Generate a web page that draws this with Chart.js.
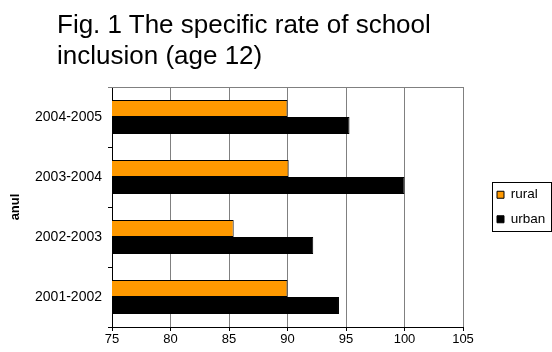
<!DOCTYPE html>
<html>
<head>
<meta charset="utf-8">
<script src="https://cdn.jsdelivr.net/npm/chart.js@4.4.1/dist/chart.umd.min.js"></script>
<style>
  body { margin: 0; background: #fff; }
  #wrap { position: relative; width: 552px; height: 352px; }
  #title {
    position: absolute; left: 57px; top: 9px;
    font: 26px "Liberation Sans", Arial, sans-serif;
    line-height: 31px; color: #000; white-space: nowrap;
  }
  canvas { position: absolute; left: 0; top: 0; }
</style>
</head>
<body>
<div id="wrap">
  <canvas id="chart" width="552" height="352"></canvas>
  <div id="title">Fig. 1 The specific rate of school<br>inclusion (age 12)</div>
</div>
<script>
const years = ['2004-2005', '2003-2004', '2002-2003', '2001-2002'];
const rural = [90.0, 90.1, 85.4, 90.0];
const urban = [95.3, 100.0, 92.2, 94.4];
const xTicks = [75, 80, 85, 90, 95, 100, 105];

Chart.defaults.font.family = '"Liberation Sans", Arial, sans-serif';
Chart.defaults.color = '#000';

// gray frame line along the top of the plot area
const plotFrame = {
  id: 'plotFrame',
  afterDraw(chart) {
    const { ctx, chartArea: a } = chart;
    ctx.save();
    ctx.strokeStyle = '#808080';
    ctx.lineWidth = 1;
    ctx.beginPath();
    ctx.moveTo(a.left - 4, a.top + 0.5);
    ctx.lineTo(a.right + 0.5, a.top + 0.5);
    ctx.stroke();
    ctx.restore();
  }
};

// box around the legend items
const legendFrame = {
  id: 'legendFrame',
  afterDraw(chart) {
    const lg = chart.legend;
    const boxes = lg && lg.legendHitBoxes;
    if (!boxes || !boxes.length) return;
    const first = boxes[0], last = boxes[boxes.length - 1];
    const x0 = Math.round(first.left - 5) + 0.5;
    const x1 = Math.round(lg.right - 1) + 0.5;
    const y0 = Math.round(first.top - 6) + 0.5;
    const y1 = Math.round(last.top + last.height + 5) + 0.5;
    const ctx = chart.ctx;
    ctx.save();
    ctx.strokeStyle = '#000';
    ctx.lineWidth = 1;
    ctx.strokeRect(x0, y0, x1 - x0, y1 - y0);
    ctx.restore();
  }
};

new Chart(document.getElementById('chart'), {
  type: 'bar',
  data: {
    labels: years,
    datasets: [
      {
        label: 'rural',
        data: rural,
        backgroundColor: '#FF9900',
        borderColor: '#000',
        borderWidth: 1,
        categoryPercentage: 0.57,
        barPercentage: 1
      },
      {
        label: 'urban',
        data: urban,
        backgroundColor: '#000',
        borderColor: '#000',
        borderWidth: 1,
        categoryPercentage: 0.57,
        barPercentage: 1
      }
    ]
  },
  options: {
    indexAxis: 'y',
    responsive: false,
    devicePixelRatio: 1,
    animation: false,
    events: [],
    layout: { padding: { top: 87, right: 0, bottom: 0, left: 0 } },
    plugins: {
      title: { display: false },
      tooltip: { enabled: false },
      legend: {
        position: 'right',
        fullSize: false,
        maxWidth: 66,
        labels: {
          boxWidth: 7,
          boxHeight: 7,
          padding: 11,
          color: '#000',
          font: { size: 13.5 }
        }
      }
    },
    scales: {
      x: {
        type: 'linear',
        min: xTicks[0],
        max: xTicks[xTicks.length - 1],
        ticks: { stepSize: xTicks[1] - xTicks[0], color: '#000', font: { size: 13 }, padding: 1 },
        grid: { color: '#808080', tickColor: '#000', tickLength: 4 },
        border: { color: '#000' },
        afterFit: (s) => { s.height = 25; }
      },
      y: {
        ticks: { color: '#000', font: { size: 14 }, padding: 6 },
        grid: { offset: true, drawOnChartArea: false, tickColor: '#000', tickLength: 4 },
        border: { color: '#000' },
        title: {
          display: true,
          text: 'anul',
          color: '#000',
          font: { size: 13, weight: 'bold' },
          padding: { top: 8, bottom: 0 }
        },
        afterFit: (s) => { s.width = 112; }
      },
      gap: {
        type: 'linear',
        position: 'right',
        grid: { display: false },
        ticks: { display: false },
        border: { display: false },
        afterFit: (s) => { s.width = 23; }
      }
    }
  },
  plugins: [plotFrame, legendFrame]
});
</script>
</body>
</html>
